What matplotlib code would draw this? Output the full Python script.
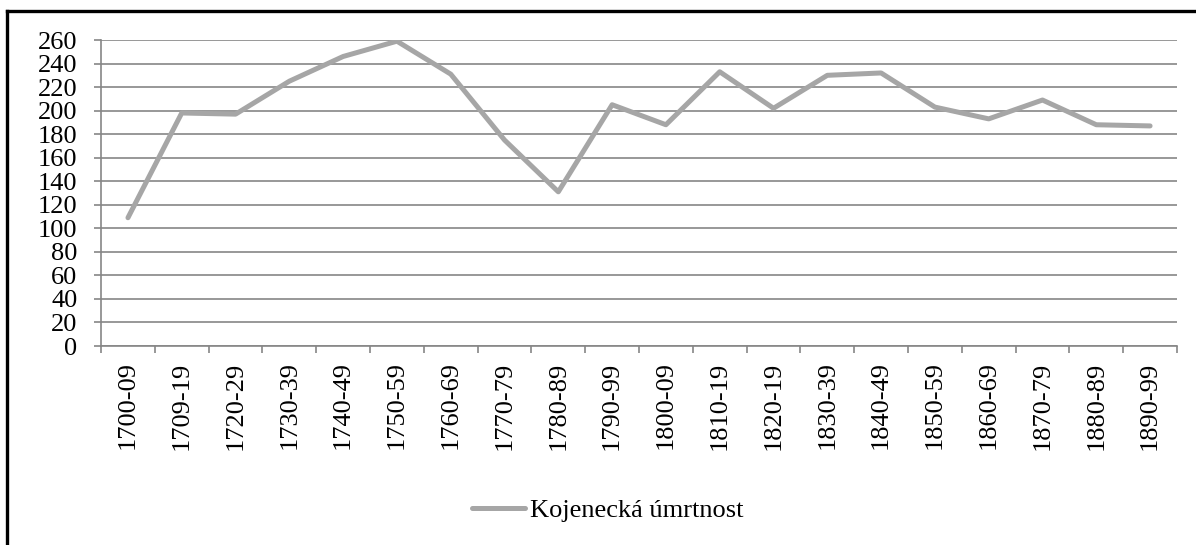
import numpy as np
import matplotlib.pyplot as plt
from matplotlib.lines import Line2D

plt.rcParams['font.family'] = ['Liberation Serif', 'DejaVu Serif']

periods = ['1700-09', '1709-19', '1720-29', '1730-39', '1740-49', '1750-59',
           '1760-69', '1770-79', '1780-89', '1790-99', '1800-09', '1810-19',
           '1820-19', '1830-39', '1840-49', '1850-59', '1860-69', '1870-79',
           '1880-89', '1890-99']
mortality = [109, 198, 197, 225, 246, 259, 231, 175, 131, 205, 188, 233,
             202, 230, 232, 203, 193, 209, 188, 187]
yticks = list(range(0, 261, 20))

grid_c = '#868686'
line_c = '#A6A6A6'
fs = 19

fig = plt.figure(figsize=(11.96, 5.45), dpi=100)
ax = fig.add_axes([0.0845, 0.3651, 0.8996, 0.5615])

x = np.arange(len(periods))
ax.plot(x, mortality, color=line_c, lw=3.6, solid_capstyle='round',
        solid_joinstyle='round', label='Kojenecká úmrtnost', zorder=3)

ax.set_xlim(-0.5, len(periods) - 0.5)
ax.set_ylim(0, 260)
ax.set_yticks(yticks)
ax.yaxis.grid(True, color=grid_c, lw=1.2)
ax.set_axisbelow(True)

ax.set_xticks(x)
ax.set_xticklabels(periods, rotation=90, fontsize=fs)
ax.set_xticks(np.arange(-0.5, len(periods)), minor=True)
ax.tick_params(axis='x', which='major', length=0, pad=11)
ax.tick_params(axis='x', which='minor', length=5, width=1.2, color=grid_c)
ax.tick_params(axis='y', length=5, width=1.2, color=grid_c, pad=12,
               labelsize=fs)

for s in ['top', 'right']:
    ax.spines[s].set_visible(False)
for s in ['left', 'bottom']:
    ax.spines[s].set_color(grid_c)
    ax.spines[s].set_linewidth(1.2)

fig.legend(loc='center', bbox_to_anchor=(608 / 1196, 1 - 510 / 545),
           frameon=False, fontsize=fs, handlelength=2.0, handletextpad=0.2)

# outer frame (only top and left visible in the crop)
fig.add_artist(Line2D([7 / 1196, 7 / 1196], [0, 1 - 11 / 545],
                      transform=fig.transFigure, color='black', lw=2.4))
fig.add_artist(Line2D([7 / 1196, 1], [1 - 11 / 545, 1 - 11 / 545],
                      transform=fig.transFigure, color='black', lw=2.4))

fig.savefig('out.png', dpi=100)
